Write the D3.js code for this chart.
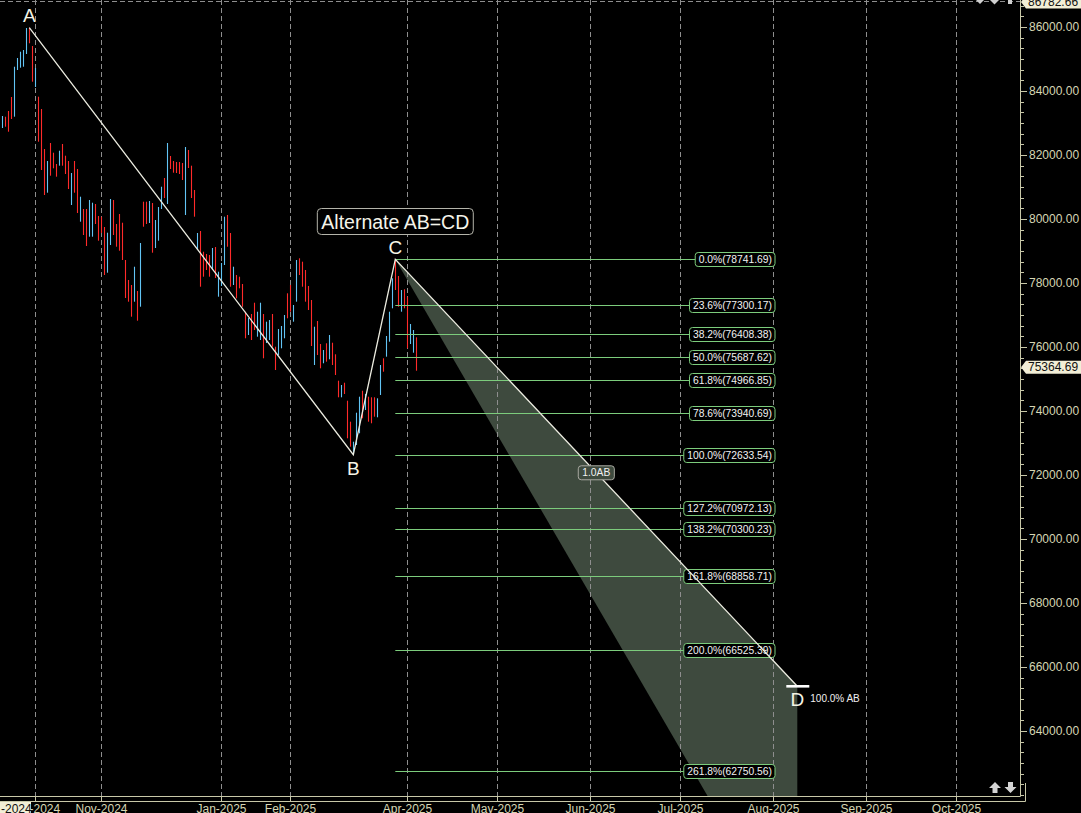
<!DOCTYPE html>
<html><head><meta charset="utf-8">
<script src="https://cdn.jsdelivr.net/npm/d3@7"></script>
<style>html,body{margin:0;padding:0;background:#000;overflow:hidden}</style>
</head><body>
<svg id="chart" width="1081" height="813"></svg>
<script>
// ---------------- DATA ----------------
const dates = [
"2024-09-16","2024-09-17","2024-09-18","2024-09-19","2024-09-20","2024-09-23","2024-09-24","2024-09-25","2024-09-26","2024-09-27","2024-09-30",
"2024-10-01","2024-10-03","2024-10-04","2024-10-07","2024-10-08","2024-10-09","2024-10-10","2024-10-11","2024-10-14","2024-10-15","2024-10-16","2024-10-17","2024-10-18","2024-10-21","2024-10-22","2024-10-23","2024-10-24","2024-10-25","2024-10-28","2024-10-29","2024-10-30","2024-10-31",
"2024-11-01","2024-11-04","2024-11-05","2024-11-06","2024-11-07","2024-11-08","2024-11-11","2024-11-12","2024-11-13","2024-11-14","2024-11-18","2024-11-19","2024-11-21","2024-11-22","2024-11-25","2024-11-26","2024-11-27","2024-11-28","2024-11-29",
"2024-12-02","2024-12-03","2024-12-04","2024-12-05","2024-12-06","2024-12-09","2024-12-10","2024-12-11","2024-12-12","2024-12-13","2024-12-16","2024-12-17","2024-12-18","2024-12-19","2024-12-20","2024-12-23","2024-12-24","2024-12-26","2024-12-27","2024-12-30","2024-12-31",
"2025-01-01","2025-01-02","2025-01-03","2025-01-06","2025-01-07","2025-01-08","2025-01-09","2025-01-10","2025-01-13","2025-01-14","2025-01-15","2025-01-16","2025-01-17","2025-01-20","2025-01-21","2025-01-22","2025-01-23","2025-01-24","2025-01-27","2025-01-28","2025-01-29","2025-01-30","2025-01-31",
"2025-02-01","2025-02-03","2025-02-04","2025-02-05","2025-02-06","2025-02-07","2025-02-10","2025-02-11","2025-02-12","2025-02-13","2025-02-14","2025-02-17","2025-02-18","2025-02-19","2025-02-20","2025-02-21","2025-02-24","2025-02-25","2025-02-27","2025-02-28",
"2025-03-03","2025-03-04","2025-03-05","2025-03-06","2025-03-07","2025-03-10","2025-03-11","2025-03-12","2025-03-13","2025-03-17","2025-03-18","2025-03-19","2025-03-20","2025-03-21","2025-03-24","2025-03-25","2025-03-26","2025-03-27","2025-03-28",
"2025-04-01","2025-04-02","2025-04-03","2025-04-04"
];
const highs = [
83219,83197,83375,83813,84759,85031,85228,85281,85969,85978,85406,
84719,83822,83438,82188,81813,82375,82072,81719,82134,82344,81978,81813,81438,81813,81563,80697,80313,80313,80594,80509,80469,80094,
80072,79750,79572,80625,80594,79844,80156,79884,78719,78094,77938,78509,77750,79250,80541,80541,80563,80500,79969,
80375,81009,81281,82375,81969,81813,81781,81781,81750,82250,82156,81666,80906,79563,79625,78978,78906,78875,79094,79125,78353,
78625,80072,80125,79563,78509,78250,78197,77969,77103,76906,77031,77384,77103,77384,77031,76791,76844,77031,76009,76563,76656,77000,77678,
77938,77313,78719,78772,78666,78406,77906,77469,76634,76813,76094,75906,76116,76375,76134,75772,74947,74813,74884,74322,
73666,73041,73947,74447,74634,74531,74447,74428,74428,74397,75438,75647,76344,77103,78147,78741.69,78219,77781,77803,
77572,76719,76531,76303
];
const lows = [
82844,82884,82728,83125,83197,84656,84728,84759,85156,85491,84291,
84125,82416,81531,80750,80822,81353,81584,81322,81666,81666,81406,80938,80438,80822,80188,79916,79500,79156,79447,79447,79844,79322,
79563,78250,78322,79188,79500,79134,79009,78719,77531,77416,76947,77416,76822,77259,79759,79844,79875,78947,79094,
79322,80313,80656,80469,81563,81447,81438,81406,81219,80125,81594,80656,80072,79031,77884,78197,78406,78197,78406,78156,77572,
77906,78563,79134,77884,77938,77522,77834,77259,76272,76375,76219,76531,76322,76219,75647,76125,76219,76009,75281,75750,75959,76272,76897,
77103,76791,77416,78250,77884,77416,77156,76031,75438,75750,75334,75491,75541,75616,75438,75125,74428,74428,74531,73147,
72884,72633.54,72938,73303,73772,74031,73666,73616,73822,73803,74500,75228,75697,76166,77209,77781,77259,77103,77209,
75959,76094,75822,75259
];
// 1 = up (blue), 0 = down (red)
const up = [
1,0,0,0,1,1,1,1,1,0,0,
1,0,0,0,1,0,0,0,1,0,0,0,1,0,0,1,0,0,1,1,0,0,
0,0,1,1,0,0,0,0,0,0,0,1,0,1,0,0,1,0,1,
1,1,0,1,0,0,0,0,0,1,0,0,0,1,0,0,0,0,1,0,1,
1,1,0,0,1,0,0,0,0,1,0,0,1,1,0,1,1,0,0,1,1,1,0,
0,1,1,0,0,0,0,0,1,0,0,1,0,1,0,0,0,1,0,0,
0,1,1,1,0,1,0,0,0,1,1,0,1,1,1,0,0,1,0,
0,1,1,0
];
const lastPrice = 75364.69;
const topPrice = 86782.66;

const pivotNames = ["A","B","C","D"];
const pivotDates = ["2024-09-27","2025-03-04","2025-03-25","2025-08-09"];
const pivotA = 85978.25, pivotB = 72633.54, pivotC = 78741.69;

const fibPct = ["0.0","23.6","38.2","50.0","61.8","78.6","100.0","127.2","138.2","161.8","200.0","261.8"];
const fibVals = [78741.69,77300.17,76408.38,75687.62,74966.85,73940.69,72633.54,70972.13,70300.23,68858.71,66525.39,62750.56];

const monthLabels = ["Oct-2024","Nov-2024","Jan-2025","Feb-2025","Apr-2025","May-2025","Jun-2025","Jul-2025","Aug-2025","Sep-2025","Oct-2025"];
const monthDates  = ["2024-10-01","2024-11-01","2025-01-01","2025-02-01","2025-04-01","2025-05-01","2025-06-01","2025-07-01","2025-08-01","2025-09-01","2025-10-01"];

const yTicks = [64000,66000,68000,70000,72000,74000,76000,78000,80000,82000,84000,86000];

// ---------------- SETUP ----------------
const W = 1081, H = 813, plotR = 1020, plotB = 796;
const svg = d3.select("#chart");
const FONT = "'Liberation Sans', Arial, sans-serif";
const AXC = "#d6d6b4";

const parse = d3.utcParse("%Y-%m-%d");
const lastIdx = dates.length - 1;
const lastDate = parse(dates[lastIdx]);
function slot(ds) {
  const d = parse(ds);
  if (d <= lastDate) {
    const i = dates.findIndex(v => parse(v) >= d);
    return i;
  }
  return lastIdx + d3.utcDay.count(lastDate, d);
}
const x = d3.scaleLinear().domain([0, lastIdx]).range([2.3, 2.3 + 3 * lastIdx]);
const y = d3.scaleLinear().domain([86000, 64000]).range([27, 731]);

svg.append("rect").attr("width", W).attr("height", H).attr("fill", "#000");
svg.append("defs").append("clipPath").attr("id", "plot")
  .append("rect").attr("x", 0).attr("y", 0).attr("width", plotR).attr("height", plotB);

const plot = svg.append("g").attr("clip-path", "url(#plot)");

// shaded projection zone (1.0 AB to 1.618 AB)
const AB = pivotA - pivotB;
const xC = x(slot(pivotDates[2])), xD = x(slot(pivotDates[3]));
const yC = y(pivotC), yD = y(pivotC - AB), yD2 = y(pivotC - 1.618 * AB);
plot.append("path")
  .attr("d", d3.line()([[xC, yC], [xD, yD], [xD, yD2]]) + "Z")
  .attr("fill", "#3e4a3e");

// grid
const gridX = monthDates.map(d => Math.round(x(slot(d))) + 0.5);
plot.selectAll(".grid").data(gridX).enter().append("line")
  .attr("x1", d => d).attr("x2", d => d).attr("y1", 0).attr("y2", plotB)
  .attr("stroke", "#8e8e8e").attr("stroke-dasharray", "5,3");
plot.append("line").attr("x1", 0).attr("x2", plotR).attr("y1", 1.5).attr("y2", 1.5)
  .attr("stroke", "#8e8e8e").attr("stroke-dasharray", "5,3");

// bars
plot.selectAll(".bar").data(dates).enter().append("line")
  .attr("x1", (d, i) => Math.round(x(i)) + 0.5).attr("x2", (d, i) => Math.round(x(i)) + 0.5)
  .attr("y1", (d, i) => y(highs[i])).attr("y2", (d, i) => y(lows[i]))
  .attr("stroke", (d, i) => up[i] ? "#62c4f4" : "#ff2a2a").attr("stroke-width", 1.1);

// fib levels
const fibG = plot.append("g");
fibVals.forEach((v, i) => {
  const yy = Math.round(y(v)) + 0.5;
  fibG.append("line").attr("x1", xC).attr("x2", 775).attr("y1", yy).attr("y2", yy)
    .attr("stroke", "#7ccc7c").attr("stroke-width", 1);
  const t = fibG.append("text").attr("x", 772).attr("y", yy).attr("text-anchor", "end")
    .attr("dominant-baseline", "central").attr("font-family", FONT).attr("font-size", 10.3)
    .attr("fill", "#f2f2f2").text(fibPct[i] + "%(" + d3.format(".2f")(v) + ")");
  const w = t.node().getComputedTextLength();
  fibG.insert("rect", "text:last-child")
    .attr("x", 772 - w - 3.5).attr("y", yy - 7).attr("width", w + 6.5).attr("height", 14)
    .attr("rx", 3).attr("fill", "#000").attr("stroke", "#7ccc7c");
});

// ABCD lines
const pts = pivotDates.map((d, i) => [x(slot(d)), y([pivotA, pivotB, pivotC, pivotC - AB][i])]);
plot.append("path").attr("d", d3.line()(pts)).attr("fill", "none")
  .attr("stroke", "#ecece0").attr("stroke-width", 1.3);
// D marker
plot.append("line").attr("x1", xD - 11).attr("x2", xD + 12).attr("y1", yD).attr("y2", yD)
  .attr("stroke", "#fff").attr("stroke-width", 2.6);

// letters
const letterPos = [[0, -5.5], [0, 20], [0, -5.5], [0, 20]];
pts.forEach((p, i) => {
  plot.append("text").attr("x", p[0]).attr("y", p[1] + letterPos[i][1])
    .attr("text-anchor", "middle").attr("font-family", FONT).attr("font-size", 19)
    .attr("fill", "#f4f4e6").text(pivotNames[i]);
});

// Alternate AB=CD label
const labG = plot.append("g");
const lt = labG.append("text").attr("x", xC).attr("y", 222).attr("text-anchor", "middle")
  .attr("dominant-baseline", "central").attr("font-family", FONT).attr("font-size", 19.5)
  .attr("fill", "#f4f4ea").text("Alternate AB=CD");
const lw = lt.node().getComputedTextLength();
labG.insert("rect", "text").attr("x", xC - lw / 2 - 4).attr("y", 208.5).attr("width", lw + 8)
  .attr("height", 26).attr("rx", 4).attr("fill", "#000").attr("stroke", "#b4b4aa");

// 1.0AB label
const mx = (pts[2][0] + pts[3][0]) / 2, my = (pts[2][1] + pts[3][1]) / 2;
const abG = plot.append("g");
const at = abG.append("text").attr("x", mx).attr("y", my).attr("text-anchor", "middle")
  .attr("dominant-baseline", "central").attr("font-family", FONT).attr("font-size", 10.3)
  .attr("fill", "#f0f0f0").text("1.0AB");
const aw = at.node().getComputedTextLength();
abG.insert("rect", "text").attr("x", mx - aw / 2 - 4).attr("y", my - 7).attr("width", aw + 8)
  .attr("height", 14).attr("rx", 3).attr("fill", "#3e4a3e").attr("stroke", "#a8a8a0");

plot.append("text").attr("x", xD + 13).attr("y", yD + 16).attr("font-family", FONT)
  .attr("font-size", 10).attr("fill", "#f0f0f0").text("100.0% AB");

// bottom-right arrows
const arrG = svg.append("g").attr("fill", "#d4d4d4");
arrG.append("path").attr("d", "M995,782 L1001,788 L997.5,788 L997.5,793 L992.5,793 L992.5,788 L989,788 Z");
arrG.append("path").attr("d", "M1010.5,793 L1016.5,787 L1013,787 L1013,782 L1008,782 L1008,787 L1004.5,787 Z");
// top icons (partially visible)
const topG = svg.append("g").attr("fill", "#cfcfcf");
topG.append("path").attr("d", "M976,0 L984,0 L980,4 Z");
topG.append("path").attr("d", "M990,0 L999,0 L994.5,4.5 Z");
topG.append("path").attr("d", "M1008,0 L1012,0 L1012,4 L1008,4 Z");

// ---------------- AXES ----------------
const ax = svg.append("g").attr("stroke", "#c8c8a8").attr("fill", "none");
ax.append("line").attr("x1", plotR + 0.5).attr("x2", plotR + 0.5).attr("y1", 0).attr("y2", plotB + 0.5);
ax.append("line").attr("x1", 0).attr("x2", plotR + 0.5).attr("y1", plotB + 0.5).attr("y2", plotB + 0.5);
ax.append("line").attr("x1", 0).attr("x2", plotR + 5.5).attr("y1", plotB + 5.5).attr("y2", plotB + 5.5);
ax.append("line").attr("x1", plotR + 5.5).attr("x2", plotR + 5.5).attr("y1", 783).attr("y2", plotB + 5.5);

// y minor ticks
const minor = d3.range(64000 - 2000, topPrice + 1, 2000 / 6).filter(v => y(v) <= plotB && y(v) >= 0);
ax.selectAll(".mt").data(minor).enter().append("line")
  .attr("x1", plotR + 0.5).attr("x2", plotR + 4).attr("y1", d => Math.round(y(d)) + 0.5).attr("y2", d => Math.round(y(d)) + 0.5);
ax.selectAll(".Mt").data(yTicks).enter().append("line")
  .attr("x1", plotR + 0.5).attr("x2", plotR + 7).attr("y1", d => Math.round(y(d)) + 0.5).attr("y2", d => Math.round(y(d)) + 0.5);
// x ticks
ax.selectAll(".xt").data(gridX).enter().append("line")
  .attr("x1", d => d).attr("x2", d => d).attr("y1", plotB).attr("y2", plotB + 5.5);

svg.selectAll(".yl").data(yTicks).enter().append("text")
  .attr("x", 1029).attr("y", d => y(d)).attr("dominant-baseline", "central")
  .attr("font-family", FONT).attr("font-size", 12).attr("fill", AXC)
  .text(d => d3.format(".2f")(d));

svg.selectAll(".xl").data(monthLabels).enter().append("text")
  .attr("x", (d, i) => gridX[i]).attr("y", 813).attr("text-anchor", "middle")
  .attr("font-family", FONT).attr("font-size", 12).attr("fill", AXC).text(d => d);

// date cursor box bottom-left
svg.append("rect").attr("x", -1).attr("y", 802).attr("width", 32).attr("height", 13).attr("fill", "#f2eed6");
svg.append("text").attr("x", 1).attr("y", 812.5).attr("font-family", FONT).attr("font-size", 12)
  .attr("fill", "#111").text("-2024");

// price tags
function tag(v) {
  const yy = y(v);
  svg.append("path").attr("d", `M${plotR + 1},${yy} L${plotR + 6},${yy - 6.5} L${W},${yy - 6.5} L${W},${yy + 6.5} L${plotR + 6},${yy + 6.5} Z`)
    .attr("fill", "#f2eed6");
  svg.append("text").attr("x", 1028).attr("y", yy).attr("dominant-baseline", "central")
    .attr("font-family", FONT).attr("font-size", 12).attr("fill", "#111").text(d3.format(".2f")(v));
}
tag(lastPrice);
tag(topPrice);
</script>
</body></html>
